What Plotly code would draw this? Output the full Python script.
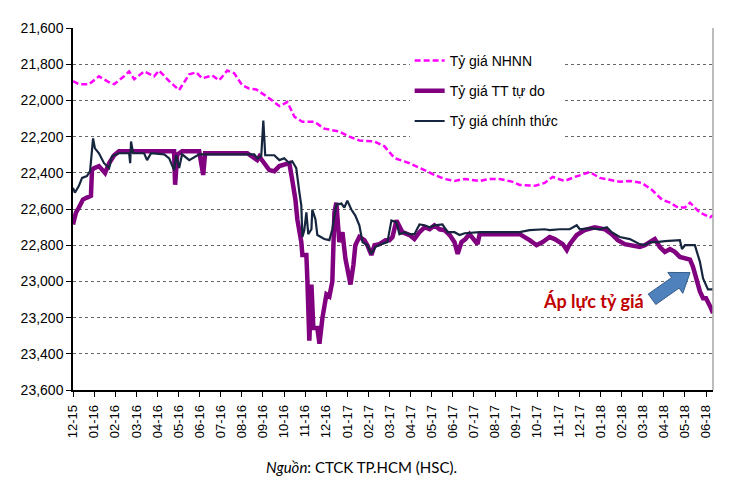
import plotly.graph_objects as go

# ---- data (x = months since Dec-2015, on the category-like monthly axis) ----
tick_labels = ["12-15", "01-16", "02-16", "03-16", "04-16", "05-16", "06-16", "07-16",
               "08-16", "09-16", "10-16", "11-16", "12-16", "01-17", "02-17", "03-17",
               "04-17", "05-17", "06-17", "07-17", "08-17", "09-17", "10-17", "11-17",
               "12-17", "01-18", "02-18", "03-18", "04-18", "05-18", "06-18"]

nhnn_x = [0, 0.28, 0.76, 1.23, 1.71, 1.95, 2.42, 2.66, 2.90, 3.37, 3.84, 4.08, 4.56, 5.03,
          5.51, 5.84, 6.12, 6.60, 6.93, 7.31, 7.64, 8.02, 8.35, 8.69, 9.21, 9.78, 10.16,
          10.49, 10.87, 11.44, 11.91, 12.62, 13.10, 13.57, 14.29, 14.76, 15.24, 15.95,
          16.66, 17.13, 17.61, 18.08, 18.56, 19.27, 19.74, 20.22, 20.84, 21.17, 21.88,
          22.35, 22.73, 23.30, 23.78, 24.49, 24.96, 25.44, 25.91, 26.39, 26.96, 27.43,
          27.91, 28.29, 28.67, 29.00, 29.24, 29.71, 30.19, 30.33]
nhnn_y = [21894, 21911, 21911, 21867, 21900, 21910, 21867, 21840, 21883, 21840, 21867, 21835,
          21894, 21943, 21856, 21845, 21878, 21862, 21889, 21835, 21850, 21916, 21935, 21940,
          21981, 22031, 22009, 22090, 22118, 22118, 22156, 22172, 22200, 22221, 22227, 22254,
          22319, 22347, 22385, 22412, 22434, 22445, 22434, 22445, 22434, 22434, 22450, 22467,
          22472, 22456, 22423, 22445, 22423, 22396, 22428, 22439, 22450, 22445, 22456, 22494,
          22548, 22565, 22592, 22592, 22565, 22620, 22646, 22635]

free_x = [0, 0.14, 0.28, 0.47, 0.66, 0.85, 0.90, 1.00, 1.23, 1.52, 1.71, 1.95, 2.18, 4.08,
          4.79, 4.84, 4.94, 5.17, 5.98, 6.17, 6.26, 7.40, 8.26, 8.73, 8.83, 9.30, 9.54, 9.78,
          10.01, 10.25, 10.39, 10.54, 10.63, 10.73, 10.82, 10.87, 11.06, 11.11, 11.20, 11.30,
          11.39, 11.58, 11.68, 11.82, 12.01, 12.15, 12.29, 12.39, 12.48, 12.62, 12.77, 12.91,
          13.15, 13.29, 13.38, 13.57, 13.81, 13.95, 14.14, 14.29, 14.52, 14.81, 15.00, 15.14,
          15.33, 15.61, 15.95, 16.18, 16.42, 16.66, 16.90, 17.13, 17.37, 17.61, 17.85, 18.08,
          18.23, 18.41, 18.60, 18.79, 19.17, 19.27, 20.22, 21.17, 21.64, 21.97, 22.26, 22.59,
          22.83, 23.21, 23.40, 23.54, 23.87, 24.25, 24.73, 25.20, 25.53, 25.82, 26.15, 26.39,
          26.86, 27.10, 27.34, 27.57, 27.81, 28.05, 28.29, 28.52, 28.76, 29.00, 29.24, 29.38,
          29.57, 29.71, 29.86, 30.00, 30.19, 30.33]
free_y = [22685, 22620, 22592, 22548, 22537, 22527, 22385, 22374, 22363, 22401, 22347, 22303,
          22281, 22281, 22281, 22466, 22300, 22281, 22281, 22412, 22292, 22292, 22292, 22330,
          22310, 22385, 22391, 22363, 22358, 22347, 22439, 22548, 22657, 22712, 22783, 22854,
          22854, 23000, 23327, 23017, 23257, 23257, 23344, 23202, 23072, 23083, 23000, 22620,
          22565, 22783, 22728, 22875, 23017, 22908, 22800, 22755, 22772, 22800, 22854, 22800,
          22794, 22772, 22772, 22755, 22663, 22728, 22744, 22766, 22728, 22701, 22712, 22690,
          22712, 22717, 22744, 22783, 22848, 22783, 22766, 22739, 22794, 22739, 22739, 22739,
          22772, 22800, 22783, 22755, 22766, 22794, 22827, 22794, 22744, 22717, 22701, 22712,
          22739, 22772, 22794, 22800, 22810, 22800, 22783, 22766, 22810, 22837, 22821, 22837,
          22865, 22875, 22880, 22919, 23000, 23055, 23093, 23093, 23137, 23175]

off_x = [0, 0.09, 0.28, 0.43, 0.66, 0.81, 0.95, 1.04, 1.23, 1.47, 1.71, 1.85, 2.18, 2.66,
         2.71, 2.75, 2.85, 3.37, 3.51, 3.70, 4.32, 4.56, 4.79, 4.89, 5.03, 5.17, 5.51, 5.98,
         7.40, 8.59, 8.73, 8.92, 9.02, 9.11, 9.54, 9.78, 10.01, 10.25, 10.39, 10.58, 10.73,
         10.82, 10.87, 10.96, 11.06, 11.15, 11.30, 11.34, 11.49, 11.58, 11.91, 12.15, 12.29,
         12.48, 12.72, 12.86, 13.00, 13.19, 13.38, 13.57, 13.72, 13.95, 14.14, 14.33, 14.62,
         14.90, 15.09, 15.33, 15.47, 15.71, 15.95, 16.18, 16.42, 16.66, 16.90, 17.13, 17.51,
         17.75, 18.08, 18.32, 18.56, 19.27, 21.17, 21.64, 22.35, 22.59, 23.07, 23.54, 23.87,
         24.02, 24.49, 24.96, 25.30, 25.53, 25.91, 26.39, 26.86, 27.10, 27.34, 27.67, 28.05,
         28.52, 28.76, 28.86, 29.00, 29.24, 29.47, 29.71, 29.86, 30.09, 30.33]
off_y = [22483, 22510, 22472, 22428, 22418, 22391, 22210, 22265, 22292, 22347, 22374, 22309,
         22292, 22292, 22347, 22227, 22292, 22292, 22330, 22292, 22298, 22320, 22385, 22303,
         22374, 22298, 22330, 22298, 22298, 22298, 22320, 22309, 22112, 22303, 22303, 22330,
         22320, 22347, 22336, 22374, 22510, 22581, 22755, 22717, 22619, 22739, 22712, 22603,
         22657, 22744, 22766, 22772, 22712, 22576, 22570, 22592, 22554, 22603, 22636, 22690,
         22783, 22800, 22848, 22810, 22794, 22783, 22663, 22674, 22739, 22728, 22739, 22739,
         22685, 22690, 22701, 22690, 22685, 22728, 22728, 22744, 22734, 22728, 22728, 22717,
         22712, 22717, 22712, 22712, 22690, 22712, 22706, 22712, 22701, 22728, 22755, 22766,
         22794, 22800, 22783, 22783, 22778, 22772, 22772, 22821, 22800, 22800, 22800, 22892,
         22984, 23044, 23044]

y_ticks = [21600, 21800, 22000, 22200, 22400, 22600, 22800, 23000, 23200, 23400, 23600]

FONT = "Liberation Sans, Arial, sans-serif"

fig = go.Figure()
fig.add_trace(go.Scatter(x=nhnn_x, y=nhnn_y, mode="lines", name="Tỷ giá NHNN",
                         legendgroup="a",
                         line=dict(color="#FF00FF", width=2.5, dash="6px,3px")))
fig.add_trace(go.Scatter(x=free_x, y=free_y, mode="lines", name="Tỷ giá TT tự do",
                         legendgroup="b",
                         line=dict(color="#800080", width=4.5)))
fig.add_trace(go.Scatter(x=off_x, y=off_y, mode="lines", name="Tỷ giá chính thức",
                         legendgroup="c",
                         line=dict(color="#17263F", width=2.2)))

fig.update_layout(
    width=752, height=488,
    margin=dict(l=65, r=47, t=15, b=106),
    paper_bgcolor="white", plot_bgcolor="white",
    font=dict(family=FONT, size=14, color="black"),
    showlegend=True,
    legend=dict(x=0.526, y=0.953, xanchor="left", yanchor="top",
                bgcolor="white", borderwidth=0,
                font=dict(family=FONT, size=14, color="black"),
                traceorder="grouped", tracegroupgap=9, itemwidth=30),
    xaxis=dict(range=[0, 30.33], tickmode="array",
               tickvals=list(range(len(tick_labels))), ticktext=tick_labels,
               tickangle=-90, tickfont=dict(family=FONT, size=13),
               showgrid=False, zeroline=False,
               showline=True, linecolor="black", linewidth=1.5,
               ticks="outside", ticklen=5, tickcolor="black", tickwidth=1,
               ticklabelstandoff=3),
    yaxis=dict(range=[23600, 21600], tickmode="array", tickvals=y_ticks,
               tickformat=",", tickfont=dict(family=FONT, size=14),
               showgrid=True, gridcolor="#666666", gridwidth=1, griddash="dot",
               zeroline=False,
               showline=True, linecolor="black", linewidth=1.5,
               ticks="outside", ticklen=5, tickcolor="black", tickwidth=1),
)

# right border of the plot area (light gray)
fig.add_shape(type="line", xref="paper", yref="paper", x0=1, x1=1, y0=0, y1=1,
              line=dict(color="#A6A6A6", width=1.5))

# block arrow ("pressure" pointer), paper coordinates
def px2paper(px, py):
    return ((px - 73) / 640.0, (390 - py) / 367.0)

arrow_px = [(648.2, 292.7), (671.5, 276.1), (667.8, 270.8), (690.0, 271.0),
            (682.8, 292.0), (679.1, 286.7), (655.8, 303.3)]
pts = [px2paper(a, b) for a, b in arrow_px]
path = "M " + " L ".join(f"{p[0]:.4f},{p[1]:.4f}" for p in pts) + " Z"
fig.add_shape(type="path", xref="paper", yref="paper", path=path,
              fillcolor="#4F81BD", line=dict(color="#385D8A", width=1))

fig.add_annotation(x=24.68, y=23110, xref="x", yref="y", text="<b>Áp lực tỷ giá</b>",
                   showarrow=False, font=dict(family="Lato, Noto Sans, sans-serif",
                                              size=18, color="#C00000"))

fig.add_annotation(x=0.45, y=-0.2125, xref="paper", yref="paper",
                   text="<i>Nguồn</i>: CTCK TP.HCM (HSC).", showarrow=False,
                   xanchor="center", yanchor="middle",
                   font=dict(family="Lato, Noto Sans, sans-serif", size=15, color="black"))

fig.write_html("out.html")
